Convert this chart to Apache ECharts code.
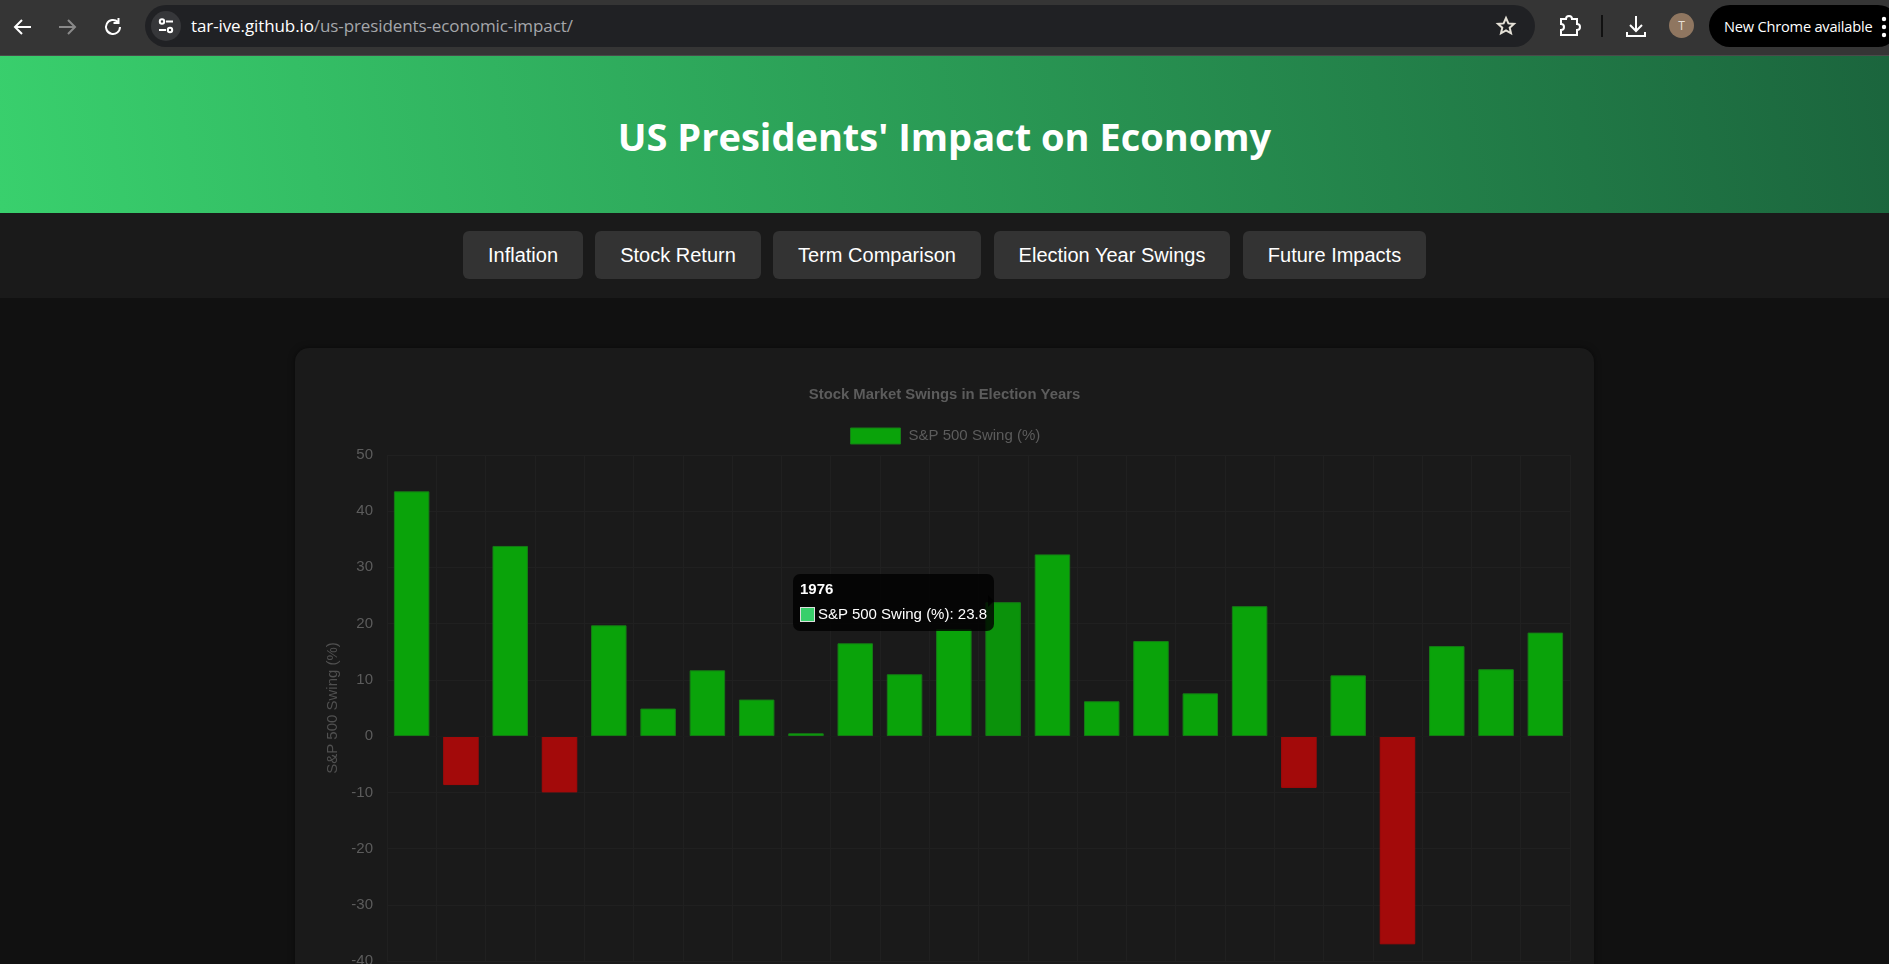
<!DOCTYPE html>
<html>
<head>
<meta charset="utf-8">
<title>US Presidents' Impact on Economy</title>
<script src="https://cdn.jsdelivr.net/npm/echarts@6/dist/echarts.min.js"></script>
<style>
  html, body { margin: 0; width: 1889px; height: 964px; overflow: hidden; background: #111; font-family: "Liberation Sans", Arial, sans-serif; }
  .abs { position: absolute; }
  #toolbar { left: 0; top: 0; width: 1889px; height: 55px; background: #353535; border-bottom: 1px solid #4a4a4a; }
  #urlbar { left: 145px; top: 5px; width: 1390px; height: 42px; border-radius: 21px; background: #202124; }
  #tune { left: 151px; top: 11px; width: 30px; height: 30px; border-radius: 15px; background: #36373a; }
  #url { left: 191px; top: 14px; font: 17px "Open Sans", sans-serif; letter-spacing: -0.1px; color: #fff; white-space: nowrap; line-height: 24px; }
  #url span { color: #a5a7ab; }
  #avatar { left: 1669px; top: 13px; width: 25px; height: 25px; border-radius: 13px; background: #8f7660; color: #e8e0d8; font: 12px "Open Sans", sans-serif; line-height: 25px; text-align: center; }
  #pill { left: 1709px; top: 5px; width: 190px; height: 42px; border-radius: 21px; background: #000; color: #fff; font: 14.6px "Open Sans", sans-serif; letter-spacing: -0.2px; line-height: 42px; text-indent: 15px; white-space: nowrap; }
  #header { left: 0; top: 56px; width: 1889px; height: 157px; background: linear-gradient(80deg, #39d06d, #1b653d); }
  #header h1 { margin: 0; text-align: center; color: #fff; font: bold 38px "Open Sans", sans-serif; line-height: 160px; }
  #nav { left: 0; top: 213px; width: 1889px; height: 85px; background: #1a1a1a; }
  .btn { position: absolute; top: 18px; height: 48px; background: #333; border-radius: 6px; color: #fff; font-size: 20px; line-height: 48px; text-align: center; }
  #card { left: 295px; top: 348px; width: 1299px; height: 800px; background: #1a1a1a; border-radius: 14px; box-shadow: 0 0 6px rgba(0,0,0,0.5); }
  #chart { position: absolute; left: 0; top: 0; width: 1299px; height: 670px; }
  svg { position: absolute; fill: none; stroke-width: 2; }
</style>
</head>
<body>
<div id="toolbar" class="abs"></div>
<svg style="left:10px;top:14px" width="26" height="26" viewBox="0 0 26 26" stroke="#fff"><path d="M21 13H6M12 6l-7 7 7 7"/></svg>
<svg style="left:54px;top:14px" width="26" height="26" viewBox="0 0 26 26" stroke="#8a8a8a"><path d="M5 13h15M14 6l7 7-7 7"/></svg>
<svg style="left:100px;top:14px" width="26" height="26" viewBox="0 0 26 26" stroke="#fff"><path d="M20 13a7 7 0 1 1-2.2-5.1M18.500 4v5h-5"/></svg>
<div id="urlbar" class="abs"></div>
<div id="tune" class="abs"></div>
<svg style="left:156px;top:16px" width="20" height="20" viewBox="0 0 20 20" stroke="#fff" stroke-width="1.6"><circle cx="6" cy="5.500" r="2.200"/><path d="M10 5.500h7M3 14h7"/><circle cx="14" cy="14" r="2.200"/></svg>
<div id="url" class="abs">tar-ive.github.io<span>/us-presidents-economic-impact/</span></div>
<svg style="left:1493px;top:13px" width="26" height="26" viewBox="0 0 26 26" stroke="#e4e0d6" stroke-width="1.7"><path d="M13 5l2.400 5.400 5.600.5-4.300 3.800 1.300 5.600-5-3-5 3 1.300-5.600L5 10.900l5.600-.5z"/></svg>
<svg style="left:1555px;top:12px" width="28" height="28" viewBox="0 0 28 28" stroke="#fff"><path d="M6 7h5a3 3 0 0 1 6 0h5v5a3 3 0 0 1 0 6v5H6v-5a3 3 0 0 0 0-6z"/></svg>
<svg style="left:1600px;top:15px" width="4" height="22" viewBox="0 0 4 22" stroke="#111"><path d="M2 0v22"/></svg>
<svg style="left:1622px;top:12px" width="28" height="28" viewBox="0 0 28 28" stroke="#fff"><path d="M14 4v15M8 13l6 6 6-6M5 20v4h18v-4"/></svg>
<div id="avatar" class="abs">T</div>
<div id="pill" class="abs">New Chrome available</div>
<svg style="left:1881px;top:16px" width="6" height="22" viewBox="0 0 6 22" stroke="none"><g fill="#fff"><circle cx="3" cy="3" r="2.200"/><circle cx="3" cy="11" r="2.200"/><circle cx="3" cy="19" r="2.200"/></g></svg>

<div id="header" class="abs"><h1>US Presidents' Impact on Economy</h1></div>
<div id="nav" class="abs">
  <div class="btn" style="left:463px;width:120px">Inflation</div>
  <div class="btn" style="left:595px;width:166px">Stock Return</div>
  <div class="btn" style="left:773px;width:208px">Term Comparison</div>
  <div class="btn" style="left:994px;width:236px">Election Year Swings</div>
  <div class="btn" style="left:1243px;width:183px">Future Impacts</div>
</div>
<div id="card" class="abs"><div id="chart"></div></div>

<script>
// datos
const years = ["1928","1932","1936","1940","1944","1948","1952","1956","1960","1964","1968","1972",
               "1976","1980","1984","1988","1992","1996","2000","2004","2008","2012","2016","2020"];
const swings = [43.5,-8.7,33.8,-10,19.7,4.9,11.7,6.5,0.5,16.5,11,19,
                23.8,32.3,6.2,16.9,7.6,23.1,-9.2,10.8,-37,16,11.9,18.4];
const yTicks = { min: -40, max: 50, interval: 10 };
const seriesName = "S&P 500 Swing (%)";
const chartTitle = "Stock Market Swings in Election Years";
const hoverIndex = 12; // 1976, tooltip visible en la captura

const FONT = '"Liberation Sans", Arial, sans-serif';
const GREEN = "#0aa30a", GREEN_HOVER = "#0b920b", GREEN_BORDER = "#167c16", RED = "#a30a0a";

const barData = swings.map((v, i) => ({
  value: v,
  itemStyle: {
    color: v < 0 ? RED : (i === hoverIndex ? GREEN_HOVER : GREEN),
    borderColor: v < 0 ? RED : GREEN_BORDER,
    borderWidth: 1
  }
}));

const chart = echarts.init(document.getElementById("chart"));
chart.setOption({
  animation: false,
  backgroundColor: "transparent",
  textStyle: { fontFamily: FONT },
  title: {
    text: chartTitle,
    left: "center",
    top: 34.5,
    textStyle: { color: "#5c5c5c", fontSize: 14.85, fontWeight: "bold", fontFamily: FONT }
  },
  legend: {
    left: 555,
    top: 79.5,
    padding: 0,
    itemWidth: 50,
    itemHeight: 16,
    icon: "rect",
    data: [seriesName],
    selectedMode: false,
    itemStyle: { color: GREEN, borderColor: GREEN_BORDER, borderWidth: 1 },
    textStyle: { color: "#5c5c5c", fontSize: 15, fontFamily: FONT, padding: [0, 0, 0, 3] }
  },
  grid: { left: 92, right: 24, top: 106.8, height: 506.4 },
  tooltip: {
    trigger: "item",
    triggerOn: "none",
    alwaysShowContent: true,
    transitionDuration: 0,
    backgroundColor: "rgba(0,0,0,0.8)",
    borderWidth: 0,
    padding: [6, 7, 8, 7],
    extraCssText: "border-radius:7px;box-shadow:none;overflow:visible;",
    position: () => [498.3, 226],
    formatter: p =>
      '<div style="position:relative;font:15px ' + "'Liberation Sans'" + ';color:#fff;line-height:18px;white-space:nowrap">' +
      '<div style="font-weight:bold;margin-bottom:7px">' + p.name + '</div>' +
      '<div><span style="display:inline-block;box-sizing:border-box;width:15px;height:15px;background:#38cf6b;border:1px solid #ddd;vertical-align:-3px;margin-right:3px"></span>' +
      p.seriesName + ': ' + p.value + '</div>' +
      '<span style="position:absolute;right:-13px;top:15px;width:0;height:0;border:6px solid transparent;border-left-color:rgba(0,0,0,0.8)"></span>' +
      '</div>'
  },
  xAxis: {
    type: "category",
    data: years,
    z: 3,
    axisTick: { show: false },
    axisLine: { show: true, onZero: true, lineStyle: { color: "#1c1c1c", width: 1 } },
    axisLabel: { color: "#5c5c5c", fontSize: 15, fontFamily: FONT, interval: 0 },
    splitLine: { show: true, lineStyle: { color: "#202020", width: 1 } }
  },
  yAxis: {
    type: "value",
    min: yTicks.min,
    max: yTicks.max,
    interval: yTicks.interval,
    name: seriesName,
    nameLocation: "middle",
    nameGap: 45,
    nameTextStyle: { color: "#505050", fontSize: 15, fontFamily: FONT },
    axisLine: { show: false },
    axisTick: { show: false },
    axisLabel: { color: "#5c5c5c", fontSize: 15, fontFamily: FONT, margin: 14 },
    splitLine: { lineStyle: { color: "#202020", width: 1 } }
  },
  series: [{
    type: "bar",
    name: seriesName,
    barWidth: "72%",
    data: barData,
    itemStyle: { color: GREEN },
    emphasis: { disabled: true }
  }]
});
chart.dispatchAction({ type: "showTip", seriesIndex: 0, dataIndex: hoverIndex });
</script>
</body>
</html>
